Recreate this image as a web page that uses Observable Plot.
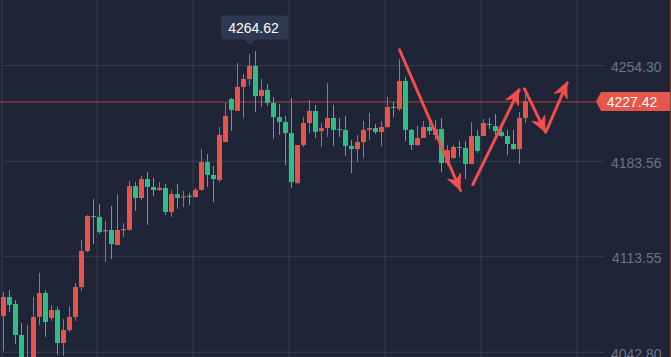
<!DOCTYPE html>
<html>
<head>
<meta charset="utf-8">
<script src="https://cdn.jsdelivr.net/npm/d3@7"></script>
<script src="https://cdn.jsdelivr.net/npm/@observablehq/plot@0.6"></script>
<style>
  html, body { margin: 0; padding: 0; background: #1f2537; }
  #chart { width: 671px; height: 357px; overflow: hidden; }
</style>
</head>
<body>
<div id="chart"></div>
<script>
// ---- Data ----
const open = [4069.1,4083.2,4078.0,4055.1,4018.2,4029.3,4068.6,4086.1,4067.7,4073.6,
  4049.2,4058.8,4068.4,4090.5,4117.1,4142.9,4142.2,4131.6,4132.6,4121.5,
  4132.4,4132.8,4165.0,4156.2,4170.2,4164.3,4162.1,4163.6,4145.9,4159.1,
  4156.5,4157.8,4156.9,4162.1,4182.7,4173.2,4169.5,4197.5,4229.2,4220.4,
  4238.1,4244.0,4253.6,4231.4,4235.9,4226.3,4215.9,4212.3,4204.1,4167.3,
  4195.3,4211.5,4220.4,4205.6,4207.8,4215.2,4207.1,4206.4,4194.6,4192.3,
  4197.5,4206.4,4207.8,4204.9,4208.6,4223.3,4221.8,4242.5,4206.4,4195.3,
  4200.5,4208.6,4202.7,4207.1,4182.0,4185.7,4193.8,4193.1,4181.3,4201.9,
  4201.9,4210.8,4209.3,4204.9,4201.9,4196.0,4192.3,4215.2];
const high = [4086.8,4088.3,4080.9,4064.0,4062.5,4083.2,4100.9,4088.3,4077.3,4075.8,
  4066.9,4076.5,4093.5,4125.2,4143.6,4155.5,4151.8,4139.2,4150.3,4159.1,
  4137.7,4168.7,4168.0,4172.4,4175.4,4170.9,4168.0,4166.5,4162.1,4166.5,
  4161.4,4159.9,4163.6,4192.3,4188.6,4179.8,4208.6,4226.3,4230.0,4255.8,
  4247.7,4262.4,4264.62,4244.0,4240.3,4230.7,4225.5,4216.7,4230.0,4195.3,
  4215.9,4228.5,4224.8,4211.5,4241.0,4224.8,4215.2,4216.7,4199.0,4202.7,
  4213.0,4218.9,4210.8,4213.0,4230.7,4227.0,4258.7,4245.4,4207.1,4209.3,
  4213.0,4211.5,4213.7,4215.2,4195.3,4195.3,4198.2,4198.2,4212.3,4206.4,
  4214.5,4215.2,4218.2,4211.5,4206.4,4206.4,4219.6,4236.6];
const low = [4043.3,4072.1,4048.5,4025.6,4010.9,4021.9,4062.5,4053.7,4065.5,4040.4,
  4039.6,4057.3,4065.5,4087.6,4116.3,4122.2,4129.6,4109.0,4111.2,4121.5,
  4127.4,4131.8,4146.6,4154.7,4136.3,4157.7,4161.4,4143.6,4142.2,4148.1,
  4149.5,4151.0,4156.5,4161.8,4164.3,4153.2,4168.0,4197.5,4205.6,4220.4,
  4215.2,4238.8,4219.6,4223.3,4224.1,4199.7,4202.7,4180.5,4163.6,4166.5,
  4193.8,4204.1,4200.5,4193.8,4201.2,4194.6,4201.2,4187.2,4174.6,4182.7,
  4185.7,4199.0,4203.4,4194.6,4207.8,4215.9,4220.4,4198.2,4191.6,4194.6,
  4200.5,4202.7,4199.0,4175.4,4180.5,4185.0,4186.4,4170.2,4181.3,4189.4,
  4201.9,4207.1,4202.7,4201.2,4187.9,4191.6,4181.3,4211.5];
const close = [4083.2,4077.3,4055.1,4032.3,4036.7,4068.4,4086.1,4064.7,4073.6,4049.2,
  4058.8,4068.4,4090.5,4117.1,4142.9,4142.2,4131.1,4132.6,4122.2,4132.6,
  4133.3,4165.0,4156.2,4170.2,4164.3,4162.1,4163.6,4145.9,4159.1,4156.2,
  4157.3,4157.0,4162.1,4182.7,4173.2,4170.2,4202.7,4216.7,4221.1,4238.1,
  4244.0,4253.6,4231.4,4235.9,4226.3,4215.9,4212.3,4204.1,4168.0,4195.3,
  4211.5,4220.4,4204.9,4207.8,4215.2,4206.4,4206.4,4194.6,4192.3,4197.5,
  4206.4,4207.8,4204.9,4208.6,4223.3,4222.6,4242.5,4206.4,4195.3,4200.5,
  4208.6,4205.6,4207.1,4182.0,4191.6,4193.8,4193.1,4181.3,4201.9,4190.9,
  4211.5,4210.0,4205.6,4201.9,4196.0,4192.3,4215.2,4227.42];

// price axis ticks (right side)
const yTicks = [4254.30, 4183.56, 4113.55, 4042.80];
// vertical grid positions (in candle-index units)
const gridX = [-0.25, 15.58, 31.58, 47.58, 63.58, 79.58, 95.58];
const gridEndX = 100.25;          // horizontal grid lines stop before the price labels

// annotations
const lastPrice = 4227.42;
const peakIndex = 42;             // candle carrying the session high
const peakPrice = 4264.62;
// hand-drawn arrows: start/end in (candle index, price)
const arrowX1 = [66.0, 78.22, 86.83, 90.45];
const arrowY1 = [4265.9, 4166.5, 4237.1, 4205.8];
const arrowX2 = [76.17, 85.95, 90.33, 93.95];
const arrowY2 = [4162.1, 4236.4, 4205.1, 4241.5];

// ---- Styles ----
const RED = "#ea5349";
const GREEN = "#2ebd85";
const ARROW = "#f24e4e";
const GRID = "#353d51";
const BG = "#1f2537";
const FONT = "'Liberation Sans', Arial, Helvetica, sans-serif";

const candles = open.map((o, i) => ({i, open: o, high: high[i], low: low[i], close: close[i]}));
const candleColor = d => d.close >= d.open ? RED : GREEN;
const arrows = arrowX1.map((x, k) => ({x1: x, y1: arrowY1[k], x2: arrowX2[k], y2: arrowY2[k]}));

// filled arrow heads, oriented along each arrow in screen space
function arrowHeads(index, scales) {
  const g = d3.create("svg:g");
  for (const a of arrows) {
    const x1 = scales.x(a.x1), y1 = scales.y(a.y1);
    const x2 = scales.x(a.x2), y2 = scales.y(a.y2);
    const ang = Math.atan2(y2 - y1, x2 - x1);
    const L = 15, N = 10, H = 7;
    const ux = Math.cos(ang), uy = Math.sin(ang);
    const nx = -uy, ny = ux;
    const bx = x2 - ux * L, by = y2 - uy * L;
    const pts = [
      [x2, y2],
      [bx + nx * H, by + ny * H],
      [x2 - ux * N, y2 - uy * N],
      [bx - nx * H, by - ny * H]
    ];
    g.append("path")
      .attr("d", "M" + pts.map(p => p[0].toFixed(2) + "," + p[1].toFixed(2)).join("L") + "Z")
      .attr("fill", ARROW)
      .attr("stroke", ARROW)
      .attr("stroke-width", 1)
      .attr("stroke-linejoin", "round");
  }
  return g.node();
}

function priceLabel(index, scales, values, dims) {
  const g = d3.create("svg:g");
  const y = Math.round(scales.y(lastPrice)) + 0.5;
  const W = dims.width;
  const tip = 596, bx = 601;
  g.append("path")
    .attr("d", `M${tip},${y} L${bx},${y - 9.5} L${W},${y - 9.5} L${W},${y + 9.5} L${bx},${y + 9.5} Z`)
    .attr("fill", "#e8554b");
  g.append("text")
    .attr("x", (bx + W) / 2 - 4).attr("y", y + 5)
    .attr("text-anchor", "middle")
    .attr("fill", "#ffffff")
    .attr("font-family", FONT).attr("font-size", 14)
    .text(lastPrice.toFixed(2));
  g.append("line")
    .attr("x1", W - 0.5).attr("x2", W - 0.5).attr("y1", 0).attr("y2", dims.height)
    .attr("stroke", "#7a4538").attr("stroke-width", 1);
  return g.node();
}

function peakTip(index, scales, values, dims) {
  const g = d3.create("svg:g");
  const cx = scales.x(peakIndex);
  const cy = scales.y(peakPrice);
  const left = cx - 34, right = cx + 33, bottom = cy - 11.5, top = cy - 35.5;
  const px = cx - 5;
  g.append("path")
    .attr("d", `M${left + 3},${top} L${right - 3},${top} Q${right},${top} ${right},${top + 3} L${right},${bottom - 3} Q${right},${bottom} ${right - 3},${bottom}
      L${px + 6},${bottom} L${px},${bottom + 5.5} L${px - 6},${bottom} L${left + 3},${bottom} Q${left},${bottom} ${left},${bottom - 3} L${left},${top + 3} Q${left},${top} ${left + 3},${top} Z`)
    .attr("fill", "#2c3950");
  g.append("text")
    .attr("x", (left + right) / 2 - 1).attr("y", cy - 18)
    .attr("text-anchor", "middle")
    .attr("fill", "#ffffff")
    .attr("font-family", FONT).attr("font-size", 14)
    .text(peakPrice.toFixed(2));
  return g.node();
}

const chart = Plot.plot({
  width: 671,
  height: 357,
  margin: 0,
  style: {background: BG, fontFamily: FONT},
  x: {domain: [-0.5, 111.3333], axis: null},
  y: {domain: [4038.89, 4302.25], axis: null},
  color: {type: "identity"},
  marks: [
    Plot.ruleX(gridX, {stroke: GRID, strokeWidth: 1}),
    Plot.ruleY(yTicks, {x2: () => gridEndX, stroke: GRID, strokeWidth: 1}),
    Plot.ruleY([lastPrice], {stroke: "#a8403f", strokeWidth: 1}),
    Plot.ruleX(candles, {x: "i", y1: "low", y2: "high", stroke: candleColor, strokeWidth: 1}),
    Plot.ruleX(candles, {x: "i", y1: "open", y2: "close", stroke: candleColor, strokeWidth: 5, strokeLinecap: "butt"}),
    Plot.link(arrows, {x1: "x1", y1: "y1", x2: "x2", y2: "y2", stroke: ARROW, strokeWidth: 3, strokeLinecap: "round"}),
    arrowHeads,
    Plot.text(yTicks, {y: d => d, frameAnchor: "right", text: d => d.toFixed(2), textAnchor: "end", dx: -10, dy: 2, fill: "#6b7387", fontSize: 14}),
    priceLabel,
    peakTip
  ]
});
document.getElementById("chart").appendChild(chart);
</script>
</body>
</html>
